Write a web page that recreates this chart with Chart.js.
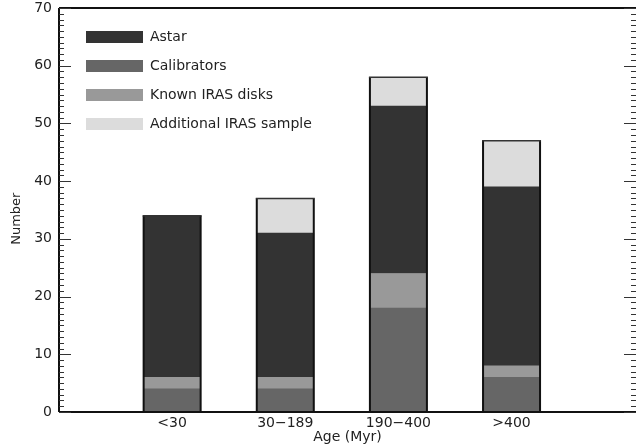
<!DOCTYPE html>
<html>
<head>
<meta charset="utf-8">
<script src="https://cdn.jsdelivr.net/npm/chart.js@4.4.0/dist/chart.umd.min.js"></script>
<style>
  html, body { margin: 0; padding: 0; background: #fff; }
  canvas { display: block; }
</style>
</head>
<body>
<canvas id="c" width="637" height="447" style="width:637px;height:447px"></canvas>
<script>
// Number of targets per age bin, stacked from the bottom up
const ageBins = ['<30', '30\u2212189', '190\u2212400', '>400'];
const calibrators = [4, 4, 18, 6];
const knownIrasDisks = [2, 2, 6, 2];
const astar = [28, 25, 29, 31];
const additionalIras = [0, 6, 5, 8];
const yTickValues = [0, 10, 20, 30, 40, 50, 60, 70];

const FONT = { family: 'DejaVu Sans', size: 14 };
const TEXT_COLOR = '#222';

function points(values) {
  return values.map((v, i) => ({ x: i, y: v }));
}

const datasets = [
  { label: 'Calibrators', data: points(calibrators), backgroundColor: '#666666' },
  { label: 'Known IRAS disks', data: points(knownIrasDisks), backgroundColor: '#999999' },
  { label: 'Astar', data: points(astar), backgroundColor: '#333333' },
  { label: 'Additional IRAS sample', data: points(additionalIras), backgroundColor: '#dcdcdc' }
];
datasets.forEach(d => { d.borderWidth = 0; d.barThickness = 57; });

// Legend order as listed in the key
const legendOrder = ['Astar', 'Calibrators', 'Known IRAS disks', 'Additional IRAS sample'];

// Outline around each whole stacked column
const stackOutline = {
  id: 'stackOutline',
  afterDatasetsDraw(chart) {
    const ctx = chart.ctx;
    const yScale = chart.scales.y;
    const base = yScale.getPixelForValue(0);
    ageBins.forEach((_, i) => {
      let top = base, left = null, right = null;
      chart.data.datasets.forEach((ds, di) => {
        const el = chart.getDatasetMeta(di).data[i];
        if (!el) return;
        const p = el.getProps(['x', 'y', 'width'], true);
        if (ds.data[i].y > 0 && p.y < top) top = p.y;
        left = p.x - p.width / 2;
        right = p.x + p.width / 2;
      });
      ctx.save();
      ctx.strokeStyle = '#111';
      ctx.lineWidth = 2;
      ctx.beginPath();
      ctx.moveTo(left, base);
      ctx.lineTo(left, top);
      ctx.moveTo(right, top);
      ctx.lineTo(right, base);
      ctx.stroke();
      ctx.strokeStyle = '#333';
      ctx.lineWidth = 1.5;
      ctx.beginPath();
      ctx.moveTo(left - 1, top);
      ctx.lineTo(right + 1, top);
      ctx.stroke();
      ctx.restore();
    });
  }
};

// Box frame with inward major and minor ticks on both vertical axes,
// plus the vertical axis title
const frameTicks = {
  id: 'frameTicks',
  afterDraw(chart) {
    const ctx = chart.ctx;
    const a = chart.chartArea;
    const yScale = chart.scales.y;
    ctx.save();
    ctx.strokeStyle = '#111';
    ctx.lineWidth = 2;
    ctx.beginPath();
    ctx.moveTo(a.left, a.top);
    ctx.lineTo(a.right, a.top);
    ctx.moveTo(a.left, a.top);
    ctx.lineTo(a.left, a.bottom);
    ctx.moveTo(a.left, a.bottom);
    ctx.lineTo(a.right, a.bottom);
    ctx.stroke();
    ctx.lineWidth = 1.2;
    ctx.strokeStyle = '#333';
    ctx.beginPath();
    for (let v = yScale.min; v <= yScale.max; v++) {
      const y = Math.round(yScale.getPixelForValue(v)) + 0.5;
      const len = v % 10 === 0 ? 12 : 5;
      ctx.moveTo(a.left, y);
      ctx.lineTo(a.left + len, y);
      ctx.moveTo(a.right, y);
      ctx.lineTo(a.right - len, y);
    }
    ctx.stroke();

    // "Number" title, centred a little below the middle of the axis
    ctx.translate(17, yScale.getPixelForValue(33.5));
    ctx.rotate(-Math.PI / 2);
    ctx.font = '13px DejaVu Sans';
    ctx.fillStyle = TEXT_COLOR;
    ctx.textAlign = 'center';
    ctx.textBaseline = 'middle';
    ctx.fillText('Number', 0, 0);
    ctx.restore();
  }
};

// Key in the upper left of the plot area
const boxKey = {
  id: 'boxKey',
  afterDraw(chart) {
    const ctx = chart.ctx;
    const a = chart.chartArea;
    ctx.save();
    ctx.font = FONT.size + 'px ' + FONT.family;
    ctx.textBaseline = 'middle';
    ctx.textAlign = 'left';
    legendOrder.forEach((name, k) => {
      const ds = chart.data.datasets.find(d => d.label === name);
      const cy = a.top + 29 + k * 29;
      ctx.fillStyle = ds.backgroundColor;
      ctx.fillRect(a.left + 27, cy - 6, 57, 12);
      ctx.fillStyle = TEXT_COLOR;
      ctx.fillText(name, a.left + 91, cy);
    });
    ctx.restore();
  }
};

new Chart(document.getElementById('c'), {
  type: 'bar',
  data: { datasets },
  plugins: [stackOutline, frameTicks, boxKey],
  options: {
    responsive: false,
    animation: false,
    layout: { padding: { top: 8, right: 1, left: 0, bottom: 0 } },
    plugins: { legend: { display: false }, tooltip: { enabled: false } },
    scales: {
      x: {
        type: 'linear',
        stacked: true,
        offset: false,
        min: -1,
        max: 4.1,
        grid: { display: false, drawTicks: false, offset: false },
        border: { display: false },
        afterBuildTicks(scale) {
          scale.ticks = ageBins.map((_, i) => ({ value: i }));
        },
        ticks: {
          autoSkip: false,
          maxRotation: 0,
          padding: 3,
          color: TEXT_COLOR,
          font: FONT,
          callback: v => ageBins[v] ?? ''
        },
        title: {
          display: true,
          text: 'Age (Myr)',
          color: TEXT_COLOR,
          font: FONT,
          padding: { top: 0, bottom: 1 }
        },
        afterFit(scale) {
          scale.height = 35;
          scale.paddingLeft = 0;
          scale.paddingRight = 0;
        }
      },
      y: {
        stacked: true,
        min: 0,
        max: 70,
        grid: { display: false, drawTicks: false },
        border: { display: false },
        afterBuildTicks(scale) {
          scale.ticks = yTickValues.map(v => ({ value: v }));
        },
        ticks: {
          padding: 7,
          color: TEXT_COLOR,
          font: FONT
        },
        title: { display: false },
        afterFit(scale) {
          scale.width = 59;
          scale.paddingTop = 0;
          scale.paddingBottom = 0;
        }
      }
    }
  }
});
</script>
</body>
</html>
